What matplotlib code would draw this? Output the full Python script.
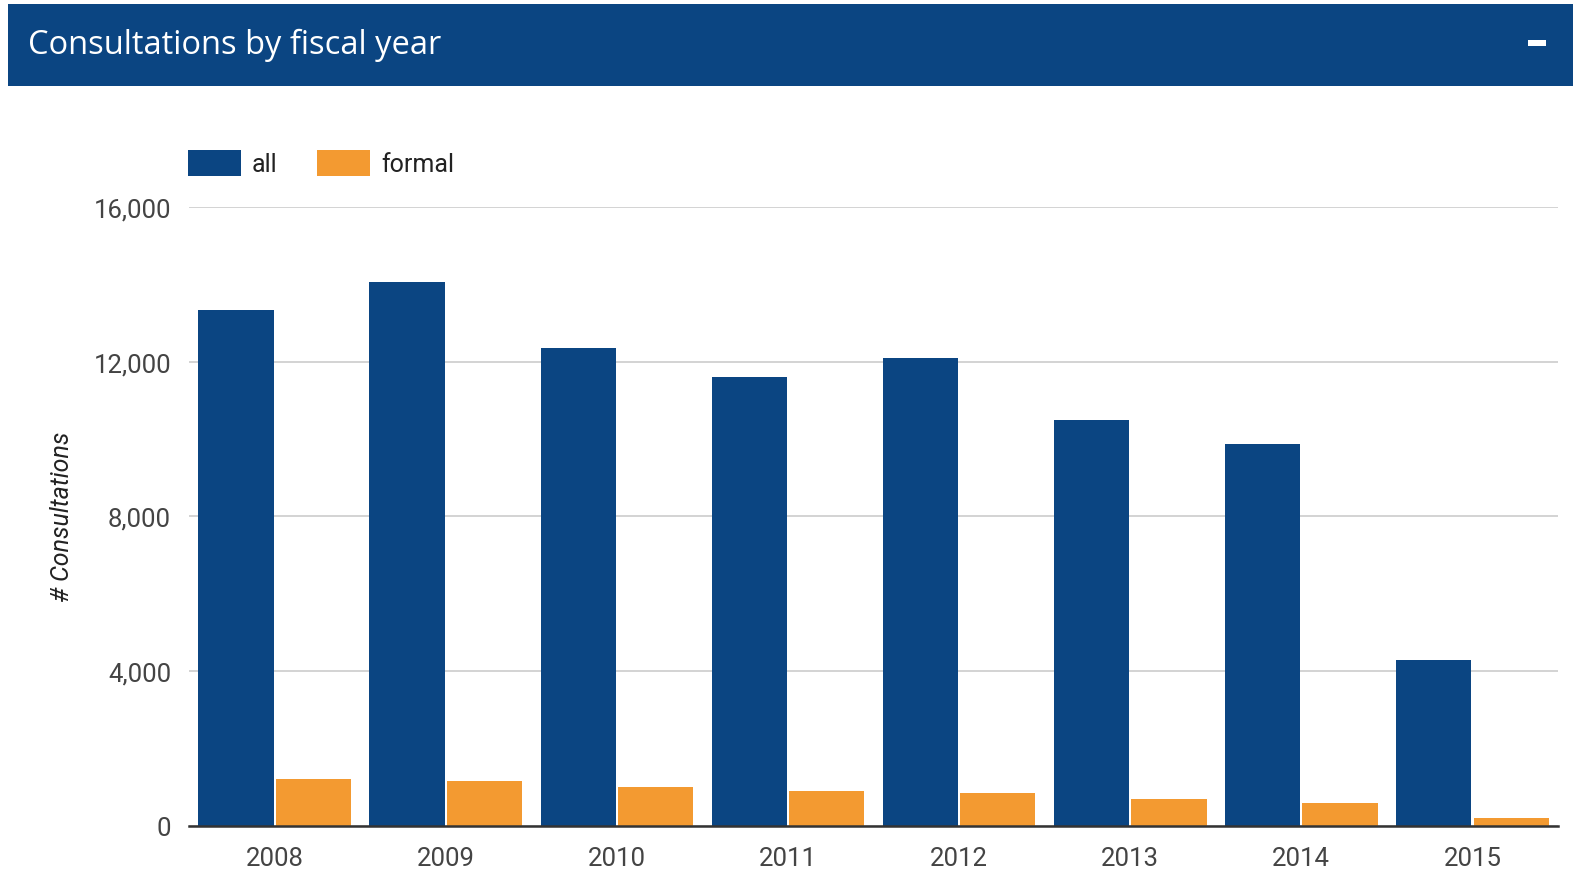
import numpy as np
import matplotlib.pyplot as plt
from matplotlib.patches import Rectangle
from matplotlib.ticker import FuncFormatter

# ── DATA ──────────────────────────────────────────────────────────────────────
years      = ["2008", "2009", "2010", "2011", "2012", "2013", "2014", "2015"]
all_vals   = [13330, 14050, 12360, 11590, 12100, 10490, 9870, 4290]
formal_vals = [1200, 1140, 990, 890, 830, 680, 580, 190]
y_ticks    = [0, 4000, 8000, 12000, 16000]
# ─────────────────────────────────────────────────────────────────────────────

BLUE   = "#0b4582"
ORANGE = "#f39a31"
GREY   = "#444444"

plt.rcParams["font.family"] = ["Roboto", "DejaVu Sans"]

fig = plt.figure(figsize=(15.76, 8.95), dpi=100)

# header band
fig.patches.append(Rectangle((0.005, 0.903), 0.993, 0.0915, transform=fig.transFigure,
                             facecolor=BLUE, edgecolor="none", zorder=0))
fig.text(0.018, 0.949, "Consultations by fiscal year", color="white",
         fontsize=23.5, family=["Open Sans", "DejaVu Sans"], va="center", ha="left")
fig.patches.append(Rectangle((0.9695, 0.947), 0.0115, 0.007, transform=fig.transFigure,
                             facecolor="white", edgecolor="none", zorder=1))

ax = fig.add_axes([0.12, 0.0765, 0.8686, 0.6911])

x = np.arange(len(years))
w = 0.44
ax.bar(x - w / 2 - 0.006, all_vals, w, color=BLUE, label="all", zorder=2)
ax.bar(x + w / 2 + 0.006, formal_vals, w, color=ORANGE, label="formal", zorder=2)

ax.set_xlim(-0.5, len(years) - 0.5)
ax.set_ylim(0, 16000)
ax.set_yticks(y_ticks)
ax.yaxis.set_major_formatter(FuncFormatter(lambda v, _: f"{int(v):,}"))
ax.set_xticks(x)
ax.set_xticklabels(years)

ax.grid(axis="y", color="#cccccc", linewidth=1.2, zorder=0)
ax.set_axisbelow(True)
for s in ["top", "right", "left"]:
    ax.spines[s].set_visible(False)
ax.spines["bottom"].set_color("#333333")
ax.spines["bottom"].set_linewidth(1.8)
ax.spines["bottom"].set_zorder(3)

ax.tick_params(axis="both", length=0, labelsize=18.5, labelcolor=GREY)
ax.tick_params(axis="y", pad=13)
ax.tick_params(axis="x", pad=15)

ax.set_ylabel("# Consultations", fontsize=18, style="italic", color="#222222")
ax.yaxis.set_label_coords(-0.084, 0.5)

ax.legend(loc="center left", bbox_to_anchor=(-0.017, 1.071), ncol=2, frameon=False,
          fontsize=18, handlelength=2.09, handleheight=1.26, columnspacing=1.6,
          handletextpad=0.45, labelcolor="#222222")

fig.savefig("out.png", dpi=100, facecolor="white")
